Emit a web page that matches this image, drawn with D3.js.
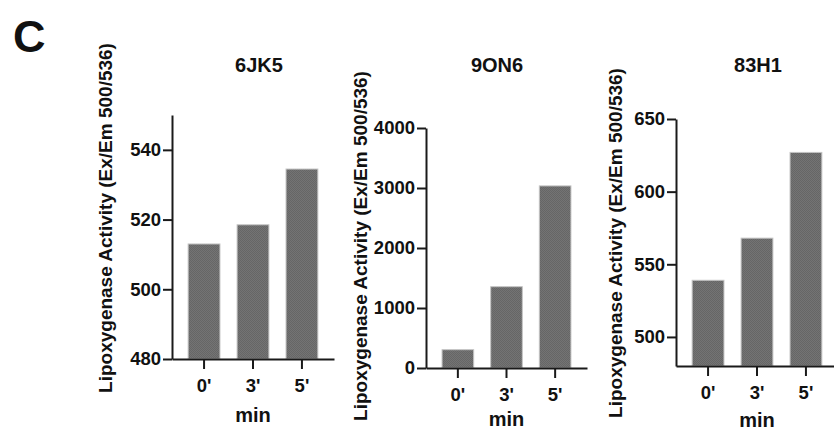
<!DOCTYPE html>
<html lang="en">
  <head>
    <meta charset="utf-8">
    <title>Lipoxygenase Activity</title>
    <style>
    body { margin: 0; background: #fff; }

    .axis path, .axis line {
        stroke: #1a1a1a;
        stroke-width: 2;
    }

    .axis text {
        font-size: 18.5px;
        font-weight: bold;
        font-family: "Liberation Sans", Arial, sans-serif;
        fill: #111;
    }

    .axis-title {
        text-anchor: middle;
        font-size: 19px;
        font-weight: bold;
        font-family: "Liberation Sans", Arial, sans-serif;
        fill: #111;
    }

    .min-title {
        text-anchor: middle;
        font-size: 20px;
        font-weight: bold;
        font-family: "Liberation Sans", Arial, sans-serif;
        fill: #111;
    }

    .panel-title {
        text-anchor: middle;
        font-size: 20px;
        font-weight: bold;
        font-family: "Liberation Sans", Arial, sans-serif;
        fill: #111;
    }

    .bar {
        fill: url(#hatch);
        stroke: #c4c4c4;
        stroke-width: 1;
    }
    </style>
  </head>
  <body>
    <div id="chart"></div>
    <script src="https://cdn.jsdelivr.net/npm/d3@7"></script>
    <script>

    // data
    var timepoints = ["0'", "3'", "5'"];
    var names = ["6JK5", "9ON6", "83H1"];
    var values6JK5 = [513, 518.5, 534.5];
    var values9ON6 = [305, 1355, 3035];
    var values83H1 = [539, 568, 627];
    var ticks6JK5 = [480, 500, 520, 540];
    var ticks9ON6 = [0, 1000, 2000, 3000, 4000];
    var ticks83H1 = [500, 550, 600, 650];
    var domain6JK5 = [480, 550];
    var domain9ON6 = [0, 4000];
    var domain83H1 = [480, 650];

    var yLabel = "Lipoxygenase Activity (Ex/Em 500/536)";

    var width = 834, height = 430;

    // where each little plot sits on the page
    var panels = [
        {name: names[0], values: values6JK5, ticks: ticks6JK5, domain: domain6JK5,
         left: 172, right: 334, top: 115, bottom: 359, titleX: 259, labelX: 112, labelY: 218, minY: 422},
        {name: names[1], values: values9ON6, ticks: ticks9ON6, domain: domain9ON6,
         left: 426, right: 587, top: 128, bottom: 368, titleX: 497, labelX: 367, labelY: 246, minY: 426},
        {name: names[2], values: values83H1, ticks: ticks83H1, domain: domain83H1,
         left: 676, right: 838, top: 119, bottom: 366, titleX: 758, labelX: 622, labelY: 243, minY: 427}
    ];

    var svg = d3.select("#chart")
                .append("svg")
                .attr("width", width)
                .attr("height", height);

    // fine checker texture like the printed bars
    var pat = svg.append("defs")
                 .append("pattern")
                 .attr("id", "hatch")
                 .attr("patternUnits", "userSpaceOnUse")
                 .attr("width", 2)
                 .attr("height", 2);
    pat.append("rect").attr("width", 2).attr("height", 2).attr("fill", "#747474");
    pat.append("rect").attr("width", 1).attr("height", 1).attr("fill", "#666666");
    pat.append("rect").attr("x", 1).attr("y", 1).attr("width", 1).attr("height", 1).attr("fill", "#666666");

    svg.append("text")
       .attr("x", 13)
       .attr("y", 52)
       .style("font-size", "45px")
       .style("font-weight", "bold")
       .style("font-family", "'Liberation Sans', Arial, sans-serif")
       .style("fill", "#111")
       .text("C");

    panels.forEach(function(p){

        var xScale = d3.scaleBand()
                       .domain(timepoints)
                       .range([p.left, p.right])
                       .paddingInner(0.35)
                       .paddingOuter(0.33);

        var yScale = d3.scaleLinear()
                       .domain(p.domain)
                       .range([p.bottom, p.top]);

        var g = svg.append("g");

        g.selectAll("rect.bar")
         .data(p.values)
         .enter()
         .append("rect")
         .classed("bar", true)
         .attr("x", function(d, i){ return xScale(timepoints[i]); })
         .attr("width", xScale.bandwidth())
         .attr("y", function(d){ return yScale(d); })
         .attr("height", function(d){ return p.bottom - yScale(d); });

        g.append("g")
         .attr("class", "y axis")
         .attr("transform", "translate(" + p.left + ",0)")
         .call(d3.axisLeft(yScale).tickValues(p.ticks).tickFormat(d3.format("d"))
                 .tickSize(9).tickPadding(2).tickSizeOuter(0));

        g.append("g")
         .attr("class", "x axis")
         .attr("transform", "translate(0," + p.bottom + ")")
         .call(d3.axisBottom(xScale).tickSize(10).tickPadding(6).tickSizeOuter(0));

        g.selectAll(".x.axis text").attr("dy", "0.9em");

        g.append("text")
         .classed("panel-title", true)
         .attr("x", p.titleX)
         .attr("y", 72)
         .text(p.name);

        g.append("text")
         .classed("min-title", true)
         .attr("x", xScale(timepoints[1]) + xScale.bandwidth() / 2)
         .attr("y", p.minY)
         .text("min");

        g.append("text")
         .classed("axis-title", true)
         .attr("transform", "rotate(-90)")
         .attr("x", -p.labelY)
         .attr("y", p.labelX)
         .text(yLabel);
    });

    </script>
  </body>
</html>
